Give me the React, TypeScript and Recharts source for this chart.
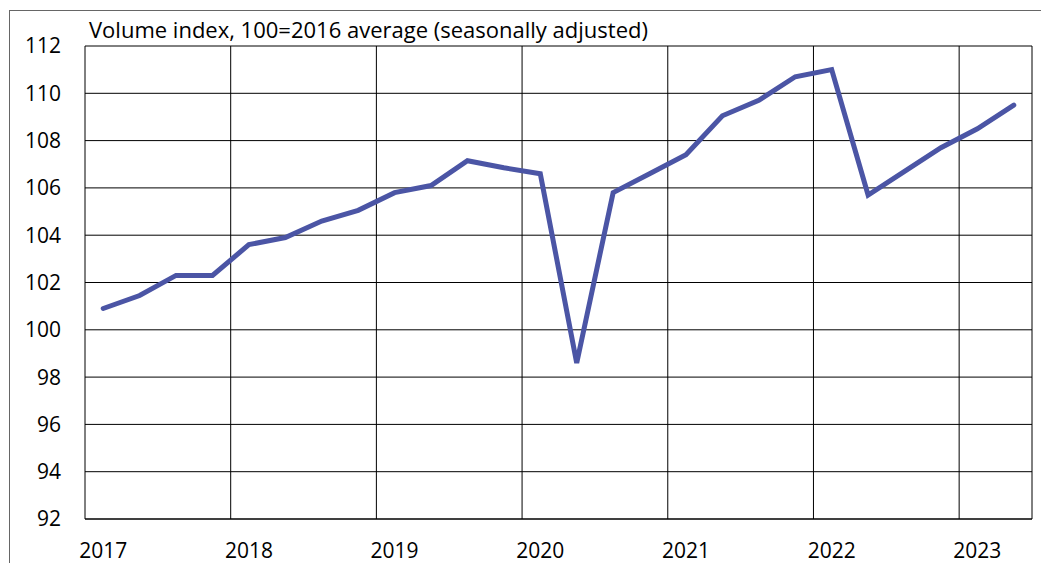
import { LineChart, Line, XAxis, YAxis, CartesianGrid, ReferenceLine } from "recharts";

const FONT = "'Open Sans', sans-serif";

// quarterly, 2017 Q1 .. 2023 Q2
const years = ["2017", "2018", "2019", "2020", "2021", "2022", "2023"];
const quarters = years.flatMap((y) => ["Q1", "Q2", "Q3", "Q4"].map((q) => `${y} ${q}`)).slice(0, 26);
const volume = [
  100.9, 101.45, 102.3, 102.3,
  103.6, 103.9, 104.6, 105.05,
  105.8, 106.1, 107.15, 106.85,
  106.6, 98.6, 105.8, 106.6,
  107.4, 109.05, 109.7, 110.7,
  111.0, 105.7, 106.7, 107.7,
  108.5, 109.5,
];
const yTicks = [92, 94, 96, 98, 100, 102, 104, 106, 108, 110, 112];

const data = quarters.map((q, i) => ({ q, v: volume[i] }));

const App = () => {
  return (
    <div style={{ marginLeft: 1, marginTop: 2, width: 1060, height: 600, borderTop: "1px solid #666", borderLeft: "1px solid #666", position: "relative", overflow: "hidden" }}>
      <div style={{ position: "absolute", left: 79, top: 3, fontFamily: FONT, fontSize: 22, color: "#000", whiteSpace: "nowrap" }}>
        Volume index, 100=2016 average (seasonally adjusted)
      </div>
      <LineChart width={1037} height={560} data={data} margin={{ top: 35, right: 15, bottom: 22, left: 15 }}>
        <CartesianGrid vertical={false} stroke="#000" strokeWidth={1} />
        <XAxis
          dataKey="q"
          scale="band"
          interval={3}
          tickFormatter={(v: string) => v.slice(0, 4)}
          tickLine={false}
          tickMargin={18}
          axisLine={{ stroke: "#000" }}
          height={30}
          tick={{ fill: "#000", fontFamily: FONT, fontSize: 21 }}
        />
        <YAxis
          domain={[92, 112]}
          ticks={yTicks}
          width={60}
          tickLine={false}
          tickMargin={18}
          axisLine={{ stroke: "#000" }}
          tick={{ fill: "#000", fontFamily: FONT, fontSize: 21 }}
        />
        {years.slice(1).map((y) => (
          <ReferenceLine key={y} x={`${y} Q1`} position="start" stroke="#000" strokeWidth={1} />
        ))}
        <ReferenceLine x={quarters[quarters.length - 1]} position="end" stroke="#000" strokeWidth={1} />
        <Line
          dataKey="v"
          stroke="#4B55A5"
          strokeWidth={5}
          dot={false}
          strokeLinecap="round"
          isAnimationActive={false}
        />
      </LineChart>
    </div>
  );
};

export default App;
